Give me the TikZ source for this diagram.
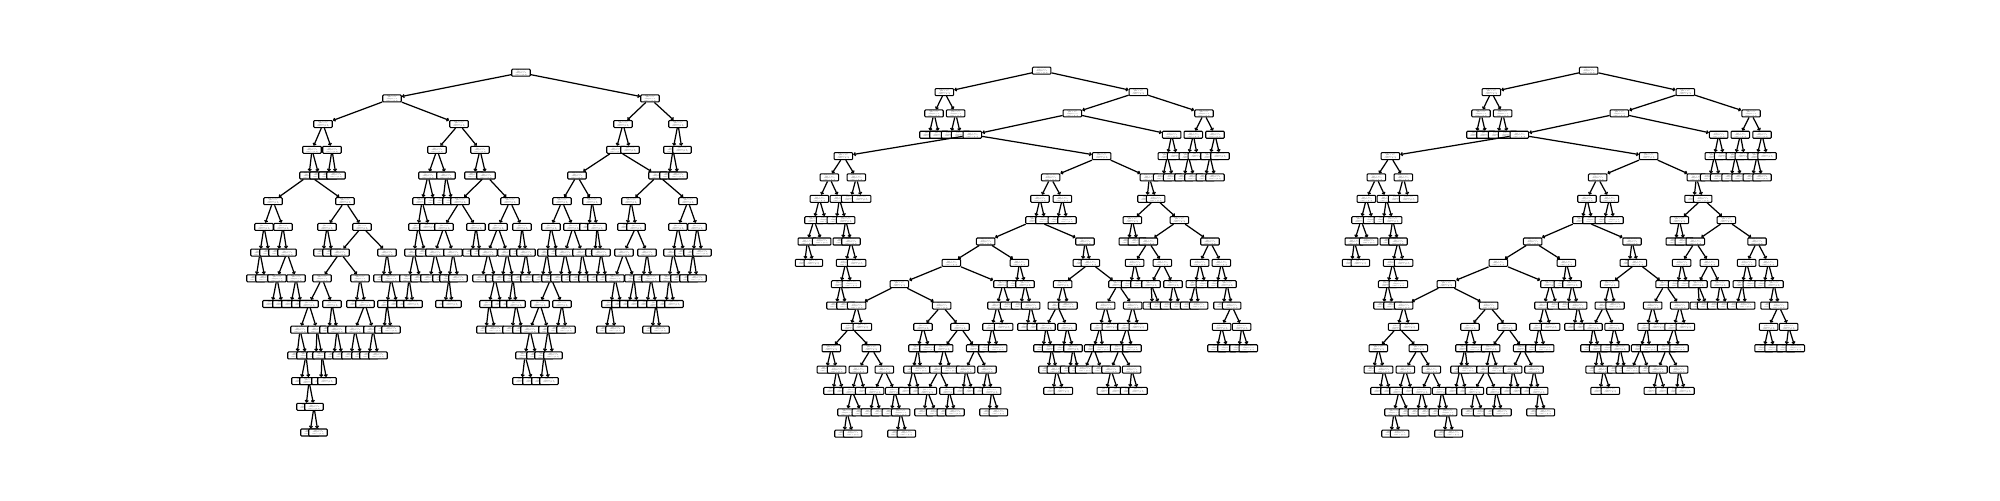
\documentclass[tikz,border=0pt]{standalone}
\usetikzlibrary{arrows.meta}

\newcommand\txti{x[2] <= 0.5\\gini = 0.5\\samples = 8\\value = [4, 4]}
\newcommand\txtf{gini = 0.0\\samples = 2\\value = [2, 0]}

\tikzset{
  tnode/.style={draw, fill=white, rounded corners=0.5pt, line width=0.6pt,
    minimum width=0.37cm, minimum height=0.14cm, inner sep=0pt,
    align=center, font=\fontsize{0.8}{0.9}\selectfont},
  tedge/.style={line width=0.7pt, -{Straight Barb[length=0.9pt,width=1.8pt]}}
}

\begin{document}
\begin{tikzpicture}[x=0.02cm, y=-0.02cm]
\useasboundingbox (0,0) rectangle (2000,500);

% first tree
\node[tnode] (a-0-521) at (521,72.7) {\txti};
\foreach \l/\x/\p/\k in {
 1/392/521/i, 1/650/521/i,
 2/323/392/i, 2/459/392/i, 2/623/650/i, 2/678/650/i,
 3/312/323/i, 3/332/323/i, 3/437/459/i, 3/480/459/i, 3/616/623/i, 3/630/623/f, 3/673/678/i, 3/682/678/f,
 4/309/312/i, 4/319/312/f, 4/328/332/f, 4/336/332/f, 4/428/437/i, 4/446/437/i, 4/474/480/f, 4/486/480/i,
 4/577/616/i, 4/658/616/i, 4/669/673/f, 4/678/673/f,
 5/273/309/i, 5/345/309/i, 5/422/428/i, 5/434/428/f, 5/443/446/f, 5/452/446/f, 5/460/486/i, 5/510/486/i,
 5/562/577/i, 5/592/577/i, 5/631/658/i, 5/688/658/i,
 6/264/273/i, 6/283/273/i, 6/327/345/i, 6/362/345/i, 6/418/422/i, 6/429/422/f, 6/444/460/i, 6/476/460/i,
 6/498/510/i, 6/522/510/i, 6/551/562/i, 6/573/562/i, 6/589/592/f, 6/597/592/i, 6/627/631/f, 6/636/631/i,
 6/678/688/i, 6/697/688/i,
 7/260/264/i, 7/269/264/f, 7/278/283/f, 7/287/283/i, 7/323/327/f, 7/332/327/f, 7/340/362/i, 7/387/362/i,
 7/414/418/i, 7/425/418/f, 7/435/444/i, 7/453/444/i, 7/472/476/f, 7/480/476/f, 7/488/498/i, 7/507/498/i,
 7/519/522/f, 7/526/522/i, 7/547/551/i, 7/557/551/f, 7/565/573/i, 7/582/573/i, 7/595/597/f, 7/601/597/i,
 7/624/636/i, 7/647/636/i, 7/673/678/i, 7/684/678/f, 7/693/697/i, 7/702/697/f,
 8/256/260/f, 8/265/260/f, 8/277/287/i, 8/296/287/i, 8/322/340/i, 8/360/340/i, 8/383/387/f, 8/391/387/i,
 8/409/414/i, 8/420/414/f, 8/430/435/f, 8/442/435/f, 8/449/453/i, 8/458/453/f, 8/482/488/f, 8/495/488/i,
 8/502/507/f, 8/513/507/i, 8/521/526/f, 8/530/526/f, 8/542/547/f, 8/551/547/i, 8/560/565/f, 8/571/565/f,
 8/579/582/f, 8/588/582/f, 8/597/601/f, 8/606/601/f, 8/615/624/i, 8/634/624/i, 8/643/647/f, 8/651/647/i,
 8/669/673/i, 8/680/673/f, 8/689/693/f, 8/697/693/f,
 9/272/277/f, 9/282/277/f, 9/291/296/f, 9/301/296/f, 9/309/322/i, 9/332/322/i, 9/356/360/f, 9/365/360/i,
 9/387/391/i, 9/397/391/f, 9/406/409/f, 9/413/409/f, 9/445/449/f, 9/452/449/f, 9/489/495/i, 9/501/495/f,
 9/509/513/f, 9/516/513/i, 9/540/551/i, 9/562/551/i, 9/611/615/i, 9/621/615/f, 9/629/634/f, 9/637/634/f,
 9/647/651/f, 9/656/651/i, 9/666/669/f, 9/674/669/f,
 10/300/309/i, 10/317/309/i, 10/329/332/f, 10/337/332/i, 10/355/365/i, 10/373/365/i, 10/384/387/f, 10/391/387/f,
 10/486/489/f, 10/495/489/f, 10/512/516/f, 10/522/516/f, 10/530/540/i, 10/548/540/i, 10/557/562/f, 10/566/562/f,
 10/606/611/f, 10/615/611/f, 10/652/656/f, 10/660/656/f,
 11/297/300/f, 11/306/300/i, 11/316/317/f, 11/322/317/i, 11/334/337/f, 11/342/337/f, 11/351/355/f, 11/361/355/f,
 11/369/373/f, 11/378/373/f, 11/525/530/i, 11/536/530/f, 11/544/548/i, 11/553/548/f,
 12/301/306/f, 12/309/306/i, 12/321/322/f, 12/327/322/f, 12/522/525/f, 12/532/525/f, 12/541/544/f, 12/549/544/f,
 13/306/309/f, 13/314/309/i,
 14/310/314/f, 14/318/314/f}{
  \pgfmathtruncatemacro\pl{\l-1}
  \node[tnode] (a-\l-\x) at (\x,{72.7+25.7*\l}) {\csname txt\k\endcsname};
  \draw[tedge] (a-\pl-\p) -- (a-\l-\x);
}

% second and third tree (same shape)
\foreach \t/\ox in {b/780, c/1327}{
  \node[tnode] (\t-0-785) at ({\ox+785/3},70.7) {\txti};
  \foreach \l/\z/\p/\k in {
   1/493/785/i, 1/1075/785/i,
   2/462/493/i, 2/527/493/i, 2/877/1075/i, 2/1272/1075/i,
   3/447/462/f, 3/477/462/f, 3/512/527/f, 3/542/527/f, 3/577/877/i, 3/1175/877/i, 3/1240/1272/i, 3/1305/1272/i,
   4/190/577/i, 4/965/577/i, 4/1162/1175/i, 4/1190/1175/f, 4/1225/1240/i, 4/1252/1240/f, 4/1290/1305/i, 4/1320/1305/f,
   5/148/190/i, 5/229/190/i, 5/812/965/i, 5/1108/965/i, 5/1148/1162/f, 5/1178/1162/f, 5/1212/1225/f, 5/1242/1225/f,
   5/1276/1290/f, 5/1305/1290/f,
   6/118/148/i, 6/178/148/i, 6/212/229/f, 6/245/229/f, 6/780/812/i, 6/847/812/i, 6/1101/1108/f, 6/1127/1108/i,
   7/102/118/i, 7/137/118/f, 7/169/178/f, 7/197/178/i, 7/765/780/i, 7/795/780/f, 7/832/847/f, 7/861/847/f,
   7/1057/1127/i, 7/1198/1127/i,
   8/82/102/i, 8/125/102/f, 8/187/197/f, 8/213/197/i, 8/617/765/i, 8/915/765/i, 8/1045/1057/f, 8/1072/1057/f,
   8/1105/1198/i, 8/1290/1198/i,
   9/74/82/f, 9/100/82/f, 9/197/213/i, 9/230/213/f, 9/514/617/i, 9/718/617/i, 9/907/915/f, 9/931/915/i,
   9/1064/1105/i, 9/1147/1105/i, 9/1259/1290/i, 9/1324/1290/i,
   10/182/197/i, 10/214/197/f, 10/358/514/i, 10/669/514/i, 10/709/718/f, 10/735/718/i, 10/848/931/i, 10/1014/931/i,
   10/1052/1064/f, 10/1080/1064/f, 10/1113/1147/i, 10/1179/1147/i, 10/1246/1259/i, 10/1276/1259/f,
   10/1311/1324/f, 10/1341/1324/i,
   11/168/182/f, 11/198/182/f, 11/230/358/i, 11/485/358/i, 11/651/669/i, 11/689/669/f, 11/722/735/f, 11/752/735/i,
   11/832/848/i, 11/864/848/f, 11/977/1014/i, 11/1058/1014/i, 11/1117/1113/f, 11/1139/1113/f, 11/1169/1179/f,
   11/1199/1179/f, 11/1229/1246/f, 11/1256/1246/f, 11/1329/1341/f, 11/1355/1341/i,
   12/212/230/i, 12/247/230/f, 12/429/485/i, 12/540/485/i, 12/636/651/i, 12/671/651/f, 12/741/752/f, 12/769/752/f,
   12/798/832/i, 12/861/832/i, 12/960/977/i, 12/994/977/f, 12/1041/1058/i, 12/1075/1058/f, 12/1325/1355/i,
   12/1385/1355/i,
   13/154/212/i, 13/274/212/i, 13/414/429/i, 13/447/429/f, 13/491/540/i, 13/587/540/i, 13/624/636/f, 13/653/636/f,
   13/789/798/f, 13/815/798/i, 13/849/861/f, 13/879/861/i, 13/941/960/i, 13/968/960/f, 13/1019/1041/i,
   13/1056/1041/f, 13/1311/1325/f, 13/1341/1325/f, 13/1377/1385/f, 13/1405/1385/f,
   14/139/154/f, 14/170/154/i, 14/235/274/i, 14/313/274/i, 14/399/414/i, 14/422/414/f, 14/477/491/i, 14/512/491/f,
   14/557/587/i, 14/621/587/i, 14/804/815/f, 14/829/815/i, 14/869/879/f, 14/894/879/f, 14/914/941/f, 14/964/941/f,
   14/993/1019/i, 14/1055/1019/i,
   15/159/170/f, 15/189/170/f, 15/216/235/i, 15/254/235/f, 15/284/313/i, 15/344/313/i, 15/384/399/f, 15/417/399/f,
   15/442/477/i, 15/507/477/i, 15/549/557/f, 15/577/557/f, 15/609/621/f, 15/635/621/i, 15/819/829/f, 15/850/829/f,
   15/979/993/f, 15/1014/993/f, 15/1049/1055/f, 15/1074/1055/f,
   16/201/216/i, 16/244/216/f, 16/271/284/f, 16/301/284/f, 16/334/344/f, 16/362/344/i, 16/432/442/f, 16/467/442/f,
   16/499/507/f, 16/525/507/f, 16/627/635/f, 16/655/635/f,
   17/192/201/f, 17/218/201/f, 17/351/362/f, 17/379/362/f}{
    \pgfmathtruncatemacro\pl{\l-1}
    \node[tnode] (\t-\l-\z) at ({\ox+\z/3},{70.7+21.35*\l}) {\csname txt\k\endcsname};
    \draw[tedge] (\t-\pl-\p) -- (\t-\l-\z);
  }
}
\end{tikzpicture}
\end{document}
